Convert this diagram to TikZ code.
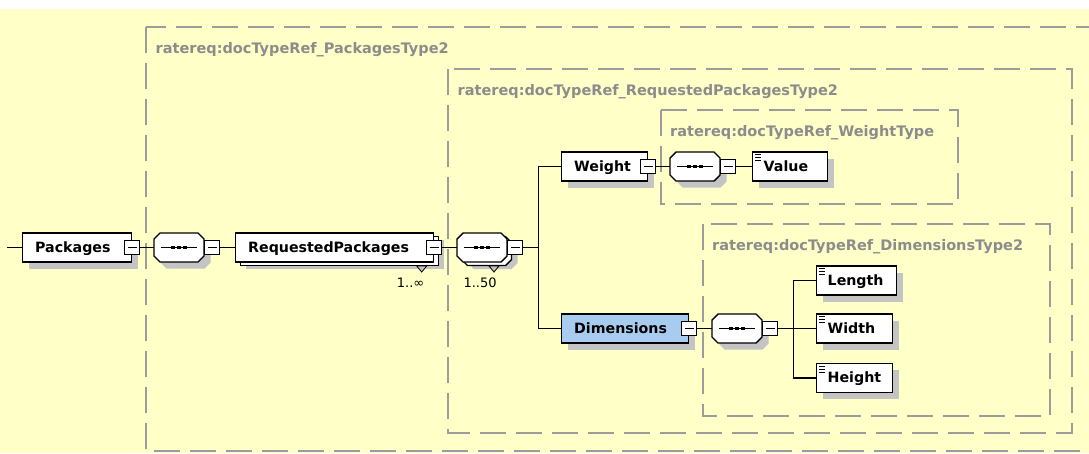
\documentclass[tikz,border=0pt]{standalone}
\usepackage{fontspec}
\newfontfamily\dvs{DejaVu Sans}
\usetikzlibrary{shadows}

\definecolor{bgyellow}{RGB}{255,255,200}
\definecolor{shadowc}{RGB}{196,196,196}
\definecolor{grpline}{RGB}{156,156,156}
\definecolor{grptext}{RGB}{140,140,140}
\definecolor{selblue}{RGB}{168,204,240}

\newcommand\eltext{\dvs\bfseries\fontsize{14.2}{17}\selectfont}
\newcommand\grptextfont{\dvs\bfseries\fontsize{14.5}{17}\selectfont}
\newcommand\multfont{\dvs\fontsize{13}{15}\selectfont}

\tikzset{
  % schema element box
  elem/.style={draw=black, fill=white, line width=1.4pt, rectangle, anchor=west,
    minimum height=29pt, inner xsep=12.5pt, inner ysep=0pt, align=left,
    text height=10.6pt, text depth=1pt, font=\eltext},
  sh/.style={general shadow={fill=shadowc, draw=none, shadow xshift=6.5pt, shadow yshift=-6.5pt}},
  stackedsh/.style={
    general shadow={fill=shadowc, draw=none, shadow xshift=10.5pt, shadow yshift=-7pt},
    general shadow={fill=white, draw=black, line width=1.4pt, shadow xshift=4.5pt, shadow yshift=-3.5pt}},
  % simple-content element with the text icon in its corner
  leaf/.style={elem, sh, inner xsep=11pt,
    path picture={
      \foreach \k in {0,3,6}
        \draw[line width=0.9pt] ([xshift=2.5pt,yshift=-2.5pt-\k pt]path picture bounding box.north west) -- ++(6,0);
    }},
  % collapse button
  btn/.style={draw=black, fill=white, line width=1.1pt, rectangle,
    minimum width=15pt, minimum height=14pt, inner sep=0pt,
    path picture={\draw[line width=1pt] ([xshift=3pt]path picture bounding box.west) -- ([xshift=-3pt]path picture bounding box.east);}},
  seqbox/.style={rectangle, minimum width=50pt, minimum height=29pt, inner sep=0pt},
  conn/.style={draw=black, line width=1.2pt},
  grp/.style={draw=grpline, line width=1.8pt, dash pattern=on 26pt off 10pt},
  grplabel/.style={anchor=base west, inner sep=0pt, text=grptext, font=\grptextfont},
  mult/.style={anchor=base west, inner sep=0pt, font=\multfont},
  pics/octa/.style={code={
    \path[pic actions] (-25,-8.5) -- (-19,-14.5) -- (19,-14.5) -- (25,-8.5) -- (25,8.5)
      -- (19,14.5) -- (-19,14.5) -- (-25,8.5) -- cycle;}},
  pics/seqmark/.style={code={
    \draw[line width=1.1pt] (-18,0) -- (18,0);
    \fill (-8,-1.75) rectangle (-4,1.75);
    \fill (-2,-1.75) rectangle (2,1.75);
    \fill (4,-1.75) rectangle (8,1.75);}},
}

% sequence compositor: name, x, y
\newcommand\seqnode[3]{%
  \node[seqbox] (#1) at (#2,#3) {};
  \pic[fill=shadowc] at (#2+6.5,#3+6.5) {octa};
  \pic[fill=white, draw=black, line width=1.4pt] at (#1) {octa};
  \pic at (#1) {seqmark};
  \node[btn, anchor=west] (#1-b) at (#1.east) {};
}
% repeated sequence compositor: name, x, y
\newcommand\seqnodemulti[3]{%
  \node[seqbox] (#1) at (#2,#3) {};
  \pic[fill=shadowc] at (#2+10.5,#3+7) {octa};
  \pic[fill=white, draw=black, line width=1.4pt] at (#2+4.5,#3+3.5) {octa};
  \pic[fill=white, draw=black, line width=1.4pt] at (#1) {octa};
  \pic at (#1) {seqmark};
  \node[btn, anchor=west] (#1-b) at (#1.east) {};
}

\begin{document}
\begin{tikzpicture}[x=1pt, y=-1pt]
  \useasboundingbox (0,0) rectangle (1089,453);
  \clip (0,0) rectangle (1089,453);
  \fill[white] (0,0) rectangle (1089,453);
  \fill[bgyellow] (0,9) rectangle (1089,453);

  % type groups
  \draw[grp] (146,27) rectangle (1100,451);
  \node[grplabel] (g-pk) at (155.5,53) {ratereq:docTypeRef\_PackagesType2};
  \draw[grp] (448,69) rectangle (1072,433);
  \node[grplabel] (g-rp) at (457.5,95) {ratereq:docTypeRef\_RequestedPackagesType2};
  \draw[grp] (661,110) rectangle (958,204);
  \node[grplabel] (g-wt) at (670,136) {ratereq:docTypeRef\_WeightType};
  \draw[grp] (703,224) rectangle (1050,416);
  \node[grplabel] (g-dim) at (712,250) {ratereq:docTypeRef\_DimensionsType2};

  % main row
  \coordinate (lead) at (7,247.5);
  \node[elem, sh, text width=84pt] (pk) at (22,247.5) {Packages};
  \node[btn] (pk-b) at (pk.east) {};

  \seqnode{s1}{179}{247.5}

  \node[elem, stackedsh, text width=173pt] (rp) at (235,247.5) {RequestedPackages};
  \draw[line width=0.8pt, fill=shadowc] (416.7,266) -- (426.7,266) -- (421.7,272) -- cycle;
  \node[btn] (rp-b) at (rp.east) {};
  \node[mult] (rp-m) at (396.7,287.3) {1..∞};

  \seqnodemulti{s2}{482}{247.5}
  \draw[line width=0.8pt, fill=shadowc] (489,266) -- (499,266) -- (494,272) -- cycle;
  \node[mult] (s2-m) at (463.3,287.3) {1..50};

  \coordinate (fork1) at (538.3,247.5);

  % weight branch
  \node[elem, sh, text width=61pt] (wt) at (561,166.5) {Weight};
  \node[btn] (wt-b) at (wt.east) {};
  \seqnode{s3}{695}{166.5}
  \node[leaf, text width=53pt] (val) at (752,166.5) {Value};

  % dimensions branch
  \node[elem, sh, fill=selblue, text width=102pt] (dim) at (561,328.5) {Dimensions};
  \node[btn] (dim-b) at (dim.east) {};
  \seqnode{s4}{737}{328.5}
  \coordinate (fork2) at (793.3,328.5);
  \node[leaf, text width=58pt] (len) at (816,280.5) {Length};
  \node[leaf, text width=54pt] (wid) at (816,328.5) {Width};
  \node[leaf, text width=54pt] (hei) at (816,378) {Height};

  % connectors
  \draw[conn] (lead) -- (pk.west);
  \draw[conn] (pk-b.east) -- (s1.west);
  \draw[conn] (s1-b.east) -- (rp.west);
  \draw[conn] (rp-b.east) -- (s2.west);
  \draw[conn] (s2-b.east) -- (fork1) |- (wt.west);
  \draw[conn] (fork1) |- (dim.west);
  \draw[conn] (wt-b.east) -- (s3.west);
  \draw[conn] (s3-b.east) -- (val.west);
  \draw[conn] (dim-b.east) -- (s4.west);
  \draw[conn] (s4-b.east) -- (fork2) |- (len.west);
  \draw[conn] (fork2) -- (wid.west);
  \draw[conn] (fork2) |- (hei.west);
\end{tikzpicture}
\end{document}
